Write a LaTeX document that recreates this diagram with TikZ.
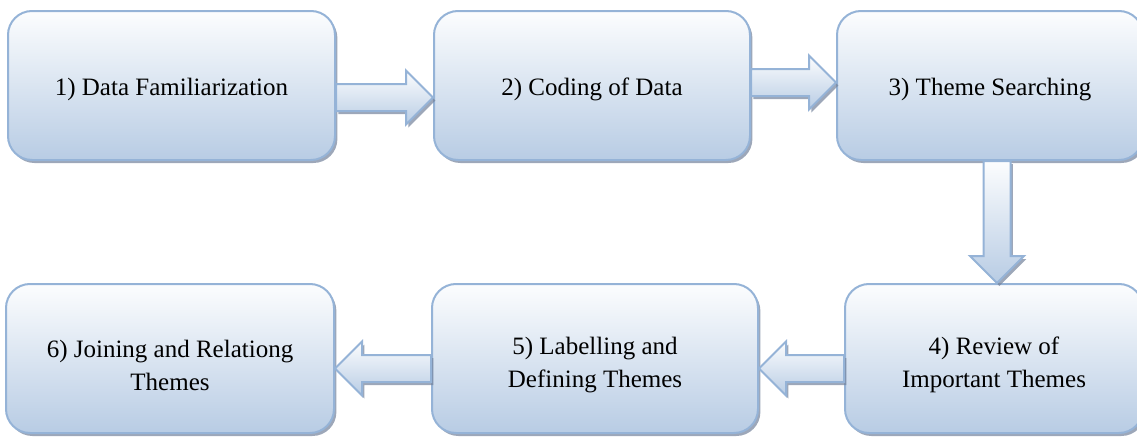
\documentclass[tikz,border=0pt]{standalone}
\usepackage{fontspec}
\setmainfont{Liberation Serif}
\usetikzlibrary{positioning,calc,shadows,shapes.arrows}
\definecolor{boxline}{RGB}{149,179,215}
\definecolor{boxtop}{RGB}{252,253,254}
\definecolor{boxbottom}{RGB}{184,204,228}
\definecolor{boxshadow}{RGB}{115,130,155}

\begin{document}
\begin{tikzpicture}
    \tikzstyle{stepbox}=[draw=boxline, line width=1pt, rounded corners=12pt, top color=boxtop, bottom color=boxbottom, minimum height=74.5pt, align=center, font=\fontsize{12.5}{16.5}\selectfont, drop shadow={shadow xshift=1.2pt, shadow yshift=-1.5pt, fill=boxshadow, opacity=0.7}];
    \tikzstyle{oneline}=[stepbox, text height=12.5pt];
    \tikzstyle{twoline}=[stepbox, text height=32pt];
    \tikzstyle{flowarrow}=[single arrow, draw=boxline, line width=1pt, top color=boxtop, bottom color=boxbottom, inner sep=6.25pt, outer sep=0pt, single arrow head extend=6.75pt, anchor=tail, drop shadow={shadow xshift=1.2pt, shadow yshift=-1.5pt, fill=boxshadow, opacity=0.7}];
    \useasboundingbox (0,0) rectangle (568.5pt,-219.5pt);
    \clip (0,0) rectangle (568.5pt,-219.5pt);
    \node[oneline, minimum width=163.5pt, anchor=north west] (familiar) at (3.5pt,-5pt) {1) Data Familiarization};
    \node[oneline, minimum width=158pt, right=48.5pt of familiar] (coding) {2) Coding of Data};
    \node[oneline, minimum width=153pt, right=42.5pt of coding] (search) {3) Theme Searching};
    \node[twoline, minimum width=149pt, anchor=north east] (review) at ([yshift=-61pt]search.south east) {4) Review of\\Important Themes};
    \node[twoline, minimum width=163pt, left=42.5pt of review] (labelling) {5) Labelling and\\Defining Themes};
    \node[twoline, minimum width=164pt, left=48pt of labelling] (joining) {6) Joining and Relationg\\Themes};
    \path let \p1=(familiar.east), \p2=(coding.west) in
        node[flowarrow, minimum height=\x2-\x1] (arrowa) at ([yshift=-6pt]familiar.east) {};
    \path let \p1=(coding.east), \p2=(search.west) in
        node[flowarrow, minimum height=\x2-\x1] (arrowb) at ([yshift=1.5pt]coding.east) {};
    \path let \p1=(search.south), \p2=(review.north) in
        node[flowarrow, shape border rotate=270, minimum height=\y1-\y2] (arrowc) at ([xshift=3.5pt]search.south) {};
    \path let \p1=(review.west), \p2=(labelling.east) in
        node[flowarrow, shape border rotate=180, minimum height=\x1-\x2] (arrowd) at ([yshift=-5pt]review.west) {};
    \path let \p1=(labelling.west), \p2=(joining.east) in
        node[flowarrow, shape border rotate=180, minimum height=\x1-\x2] (arrowe) at ([yshift=-5pt]labelling.west) {};
\end{tikzpicture}
\end{document}
